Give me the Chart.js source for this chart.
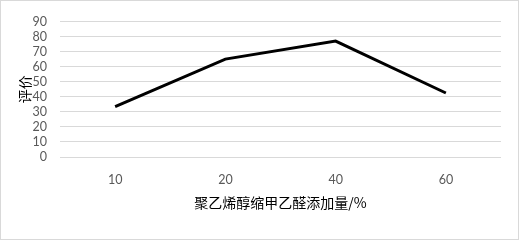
<!DOCTYPE html>
<html>
<head>
<meta charset="utf-8">
<script src="https://cdn.jsdelivr.net/npm/chart.js@4/dist/chart.umd.min.js"></script>
<style>
  html, body { margin: 0; padding: 0; background: #fff; }
  .wrap { width: 519px; height: 240px; box-sizing: border-box; border: 1px solid #d9d9d9; position: relative; }
</style>
</head>
<body>
<div class="wrap"><canvas id="myChart"></canvas></div>
<script>
// data
const categories = ['10', '20', '40', '60'];
const scores = [33.5, 65, 77, 42.5];
const yTitle = '评价';
const xTitle = '聚乙烯醇缩甲乙醛添加量/%';

const tickFont = { family: 'Lato, "Noto Sans CJK SC", sans-serif', size: 12.5 };

const config = {
	type: 'line',
	data: {
		labels: categories,
		datasets: [
			{
				label: yTitle,
				data: scores,
				borderColor: '#000000',
				borderWidth: 3,
				pointRadius: 0,
				tension: 0,
			},
		],
	},
	options: {
		responsive: true,
		maintainAspectRatio: false,
		animation: false,
		layout: { padding: { top: 6, right: 17, bottom: 28, left: 15 } },
		plugins: {
			legend: { display: false },
			tooltip: { enabled: false },
		},
		scales: {
			x: {
				offset: true,
				grid: { display: false, drawTicks: false },
				border: { display: false },
				ticks: { color: '#595959', font: tickFont, padding: 15, maxRotation: 0 },
				title: {
					display: true,
					text: xTitle,
					color: '#000000',
					font: { family: '"Noto Sans CJK SC", Lato, sans-serif', size: 14 },
					padding: { top: 0, bottom: 0 },
				},
				afterFit: (scale) => { scale.height = 54; },
			},
			y: {
				min: 0,
				max: 90,
				ticks: { stepSize: 10, autoSkip: false, color: '#595959', font: tickFont, padding: 13 },
				grid: { color: '#d9d9d9', lineWidth: 1, drawTicks: false },
				border: { display: false },
				title: {
					display: true,
					text: yTitle,
					color: '#000000',
					font: { family: '"Noto Sans CJK SC", sans-serif', size: 14 },
					padding: { top: 0, bottom: 0 },
				},
				afterFit: (scale) => { scale.width = 44; },
			},
		},
	},
};

const context = document.getElementById('myChart').getContext('2d');
const chart = new Chart(context, config);
</script>
</body>
</html>
